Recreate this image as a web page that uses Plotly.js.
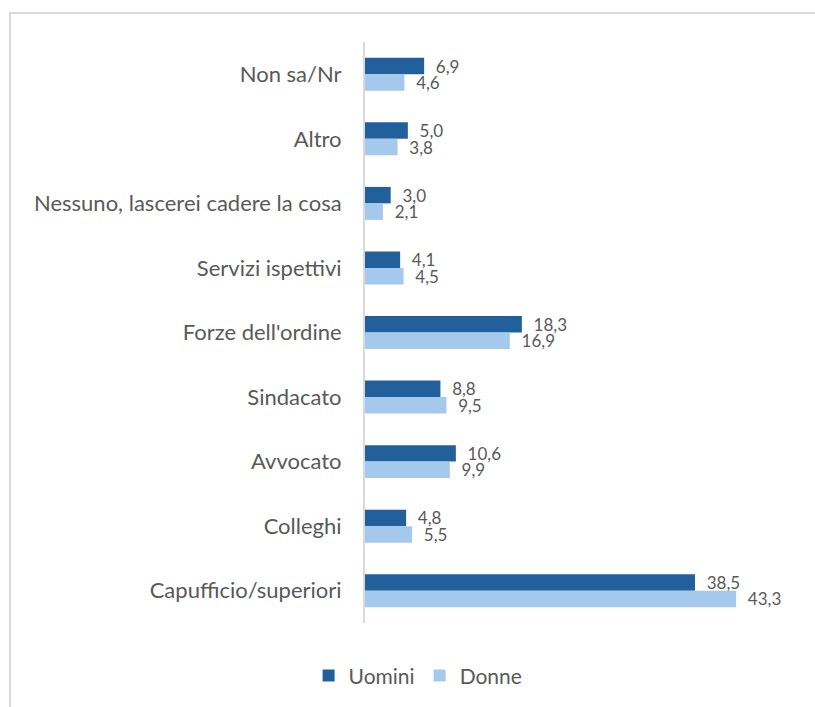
<!DOCTYPE html>
<html>
<head>
<meta charset="utf-8">
<script src="https://cdn.plot.ly/plotly-3.0.1.min.js"></script>
<style>
  html, body { margin: 0; padding: 0; background: #ffffff; }
  #wrap { position: relative; width: 815px; height: 707px; overflow: hidden; }
  #frame { position: absolute; left: 9px; top: 12px; width: 900px; height: 800px;
           border-top: 2px solid #d9d9d9; border-left: 2px solid #d9d9d9; pointer-events: none; }
  #chart { position: absolute; left: 0; top: 0; width: 815px; height: 707px; }
</style>
</head>
<body>
<div id="wrap">
  <div id="chart"></div>
  <div id="frame"></div>
</div>
<script>
// categories listed top to bottom
const categories = [
  "Non sa/Nr",
  "Altro",
  "Nessuno, lascerei cadere la cosa",
  "Servizi ispettivi",
  "Forze dell'ordine",
  "Sindacato",
  "Avvocato",
  "Colleghi",
  "Capufficio/superiori"
];
const uomini = [6.9, 5.0, 3.0, 4.1, 18.3, 8.8, 10.6, 4.8, 38.5];
const donne  = [4.6, 3.8, 2.1, 4.5, 16.9, 9.5, 9.9, 5.5, 43.3];
const seriesNames = ["Uomini", "Donne"];

const pad = "\u00A0\u00A0";
const fmt = v => pad + v.toFixed(1).replace(".", ",");

const FONT = "Lato, 'Open Sans', sans-serif";
const GREY = "#595959";

const traces = [
  {
    type: "bar", orientation: "h", name: seriesNames[0],
    y: categories, x: uomini,
    marker: { color: "#22609B" },
    text: uomini.map(fmt), textposition: "outside", cliponaxis: false,
    constraintext: "none",
    textfont: { family: FONT, size: 17, color: GREY },
    hoverinfo: "x+y"
  },
  {
    type: "bar", orientation: "h", name: seriesNames[1],
    y: categories, x: donne,
    marker: { color: "#A5C9EC" },
    text: donne.map(fmt), textposition: "outside", cliponaxis: false,
    constraintext: "none",
    textfont: { family: FONT, size: 17, color: GREY },
    hoverinfo: "x+y"
  }
];

const layout = {
  width: 815, height: 707,
  margin: { l: 365, r: 30, t: 42, b: 84 },
  paper_bgcolor: "rgba(0,0,0,0)",
  plot_bgcolor: "rgba(0,0,0,0)",
  barmode: "group",
  bargap: 0.49,
  bargroupgap: 0,
  font: { family: FONT, size: 17, color: GREY },
  xaxis: {
    range: [0, 49],
    showgrid: false, zeroline: false, showticklabels: false,
    showline: false, ticks: ""
  },
  yaxis: {
    type: "category",
    autorange: false,
    range: [8.5, -0.5],
    showgrid: false, zeroline: false,
    showline: true, linecolor: "#d9d9d9", linewidth: 2,
    ticks: "", ticklabelstandoff: 17,
    tickfont: { family: FONT, size: 22, color: GREY }
  },
  showlegend: true,
  legend: {
    orientation: "h",
    xref: "container", yref: "container",
    x: 0.513, xanchor: "center",
    y: 0.044, yanchor: "middle",
    font: { family: FONT, size: 21, color: GREY },
    itemwidth: 30,
    traceorder: "normal"
  }
};

Plotly.newPlot("chart", traces, layout, { displayModeBar: false, staticPlot: true });
</script>
</body>
</html>
